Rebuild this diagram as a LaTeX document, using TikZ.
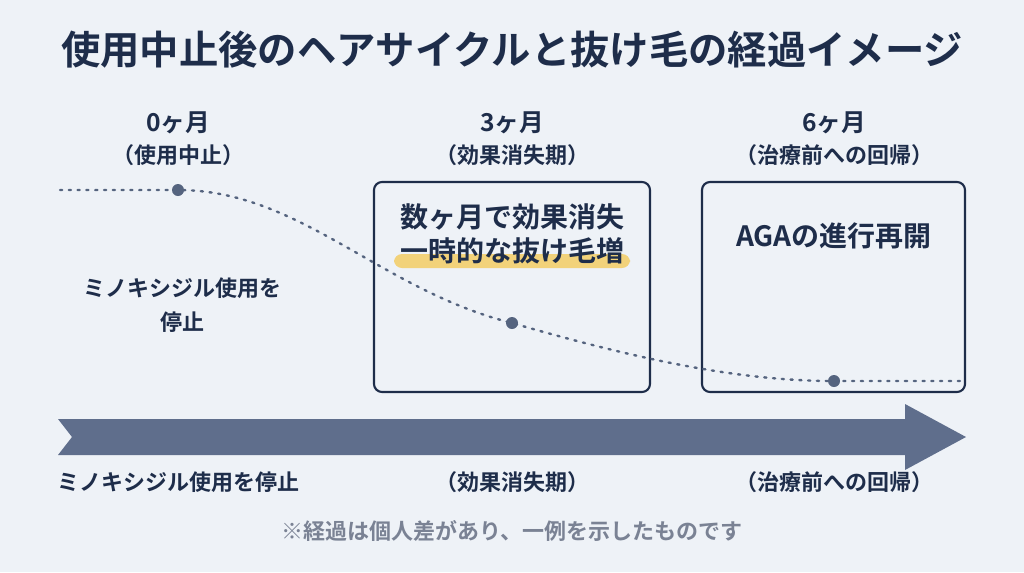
\documentclass[tikz,border=0pt]{standalone}
\usepackage{fontspec}
\setmainfont{Noto Sans CJK JP}[BoldFont={Noto Sans CJK JP Bold}]
\usetikzlibrary{positioning}
\definecolor{navy}{HTML}{1E2D4A}
\definecolor{bgcol}{HTML}{EEF2F7}
\definecolor{arrowcol}{HTML}{5F6E8C}
\definecolor{dotcol}{HTML}{55647F}
\definecolor{hilite}{HTML}{F2D27A}
\definecolor{notecol}{HTML}{7A8294}

\tikzset{
  title/.style = {font=\bfseries\fontsize{29.5}{34}\selectfont, text=navy},
  month/.style = {font=\bfseries\fontsize{18.5}{22}\selectfont, text=navy},
  phase/.style = {font=\bfseries\fontsize{16.5}{20}\selectfont, text=navy},
  boxtext/.style = {font=\bfseries\fontsize{21}{25}\selectfont, text=navy},
  stage/.style = {draw=navy, line width=1.6pt, rounded corners=6pt},
  marker/.style = {circle, fill=dotcol, inner sep=0pt, minimum size=9pt}
}

\begin{document}
\begin{tikzpicture}[x=0.75pt, y=-0.75pt]
        \fill[bgcol] (0, 0) rectangle (1024, 572);
        \useasboundingbox (0, 0) rectangle (1024, 572);

        \node[title] (title) at (512, 50) {使用中止後のヘアサイクルと抜け毛の経過イメージ};

        % month headings
        \node[month] (m0) at (178, 123) {0ヶ月};
        \node[phase] (p0) at (178, 155) {（使用中止）};
        \node[month] (m3) at (512, 123) {3ヶ月};
        \node[phase] (p3) at (512, 155) {（効果消失期）};
        \node[month] (m6) at (834, 123) {6ヶ月};
        \node[phase] (p6) at (834, 155) {（治療前への回帰）};

        % stage boxes
        \draw[stage] (374, 182) rectangle (650, 392);
        \draw[stage] (702, 182) rectangle (965, 392);
        \fill[hilite, rounded corners=6pt] (394, 254) rectangle (630, 268);
        \node[boxtext] (b1a) at (512, 217) {数ヶ月で効果消失};
        \node[boxtext] (b1b) at (512, 251) {一時的な抜け毛増};
        \node[boxtext] (b2) at (834, 236) {AGAの進行再開};

        \node[phase, align=center] (stop) at (182, 305) {ミノキシジル使用を\\[5pt]停止};

        % hair curve
        \draw[dotcol, line width=1.8pt, dash pattern=on 1.6pt off 5pt, line cap=round]
          (60, 190) -- (178, 190) .. controls (300, 190) and (380, 290) .. (512, 323)
          .. controls (640, 360) and (740, 381) .. (834, 381) -- (960, 381);
        \node[marker] (d0) at (178, 190) {};
        \node[marker] (d3) at (512, 323) {};
        \node[marker] (d6) at (834, 381) {};

        % time arrow
        \fill[arrowcol] (58, 419) -- (905, 419) -- (905, 404) -- (966, 437)
          -- (905, 470) -- (905, 455) -- (58, 455) -- (72, 437) -- cycle;

        \node[phase] (t0) at (178, 482) {ミノキシジル使用を停止};
        \node[phase] (t3) at (512, 482) {（効果消失期）};
        \node[phase] (t6) at (834, 482) {（治療前への回帰）};

        \node[font=\bfseries\fontsize{16.5}{20}\selectfont, text=notecol] (note) at (512, 531)
          {※経過は個人差があり、一例を示したものです};
\end{tikzpicture}
\end{document}
